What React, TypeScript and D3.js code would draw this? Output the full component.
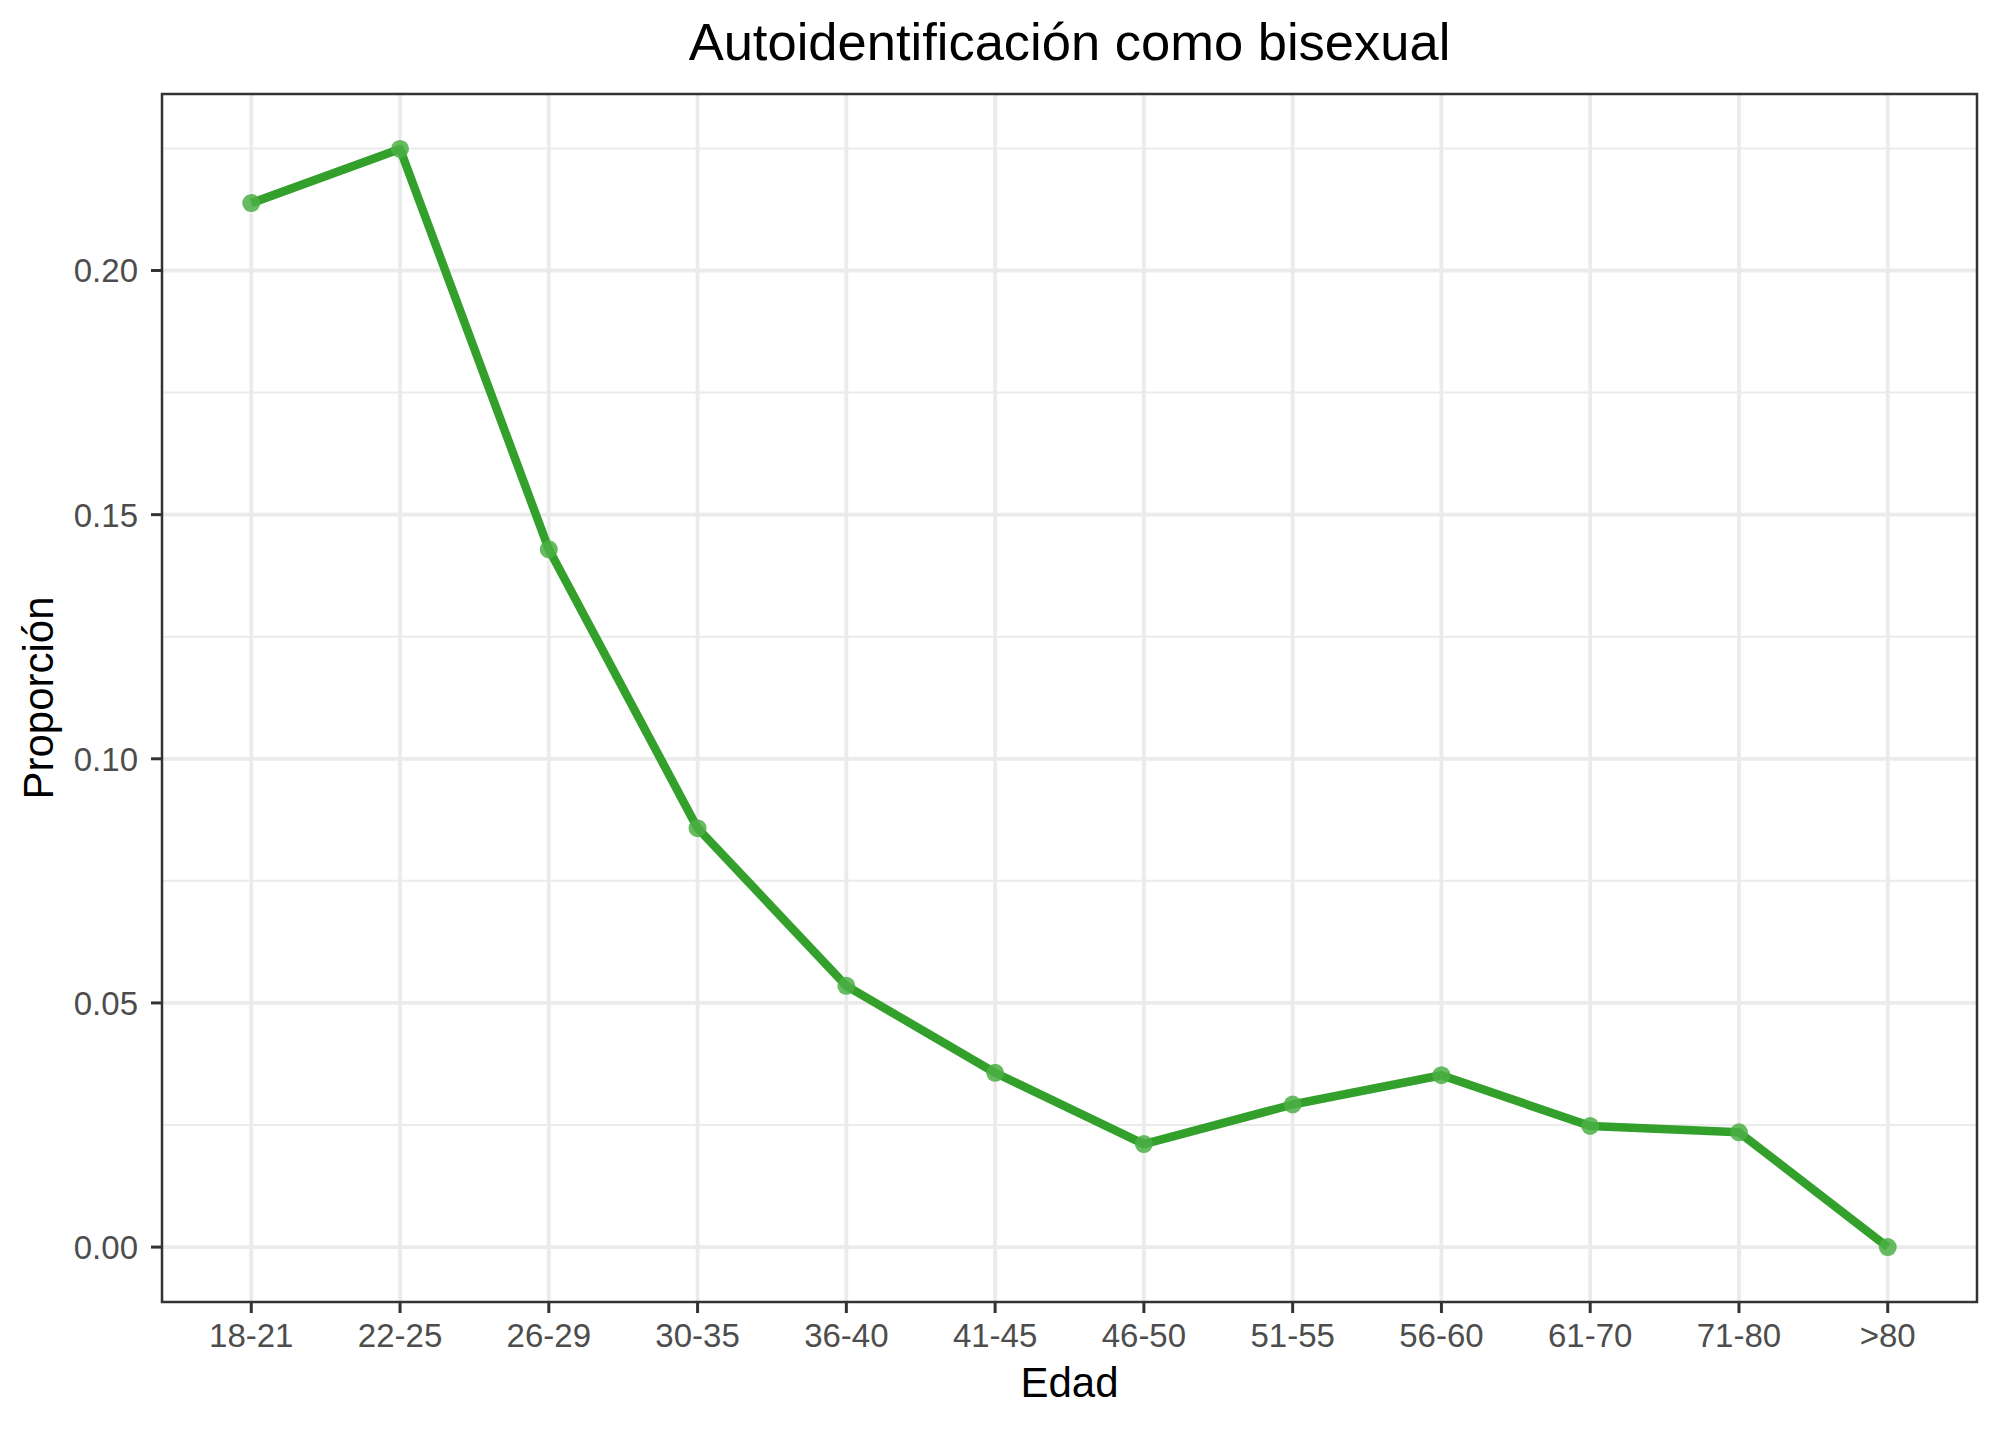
import { useEffect } from 'react';
import * as d3 from 'd3';

const ageGroups = ['18-21', '22-25', '26-29', '30-35', '36-40', '41-45', '46-50', '51-55', '56-60', '61-70', '71-80', '>80'];
const proportion = [0.2138, 0.2249, 0.1429, 0.0858, 0.0535, 0.0357, 0.0211, 0.0292, 0.0352, 0.0248, 0.0235, 0.0];
const yTicks = [0, 0.05, 0.1, 0.15, 0.2];
const yMinorTicks = [0.025, 0.075, 0.125, 0.175, 0.225];

const chartTitle = 'Autoidentificación como bisexual';
const xTitle = 'Edad';
const yTitle = 'Proporción';

const W = 2000;
const H = 1429;
const panel = { left: 162, right: 1977, top: 94, bottom: 1302 };
const font = '"Liberation Sans", Arial, Helvetica, sans-serif';

const App = () => {
    useEffect(() => {
        document.body.style.margin = '0';
    }, []);

    const x = d3.scalePoint<string>()
        .domain(ageGroups)
        .range([panel.left, panel.right])
        .padding(0.6);

    const yMax = d3.max(proportion) as number;
    const yMin = 0;
    const pad = (yMax - yMin) * 0.05;
    const y = d3.scaleLinear()
        .domain([yMin - pad, yMax + pad])
        .range([panel.bottom, panel.top]);

    const line = d3.line<number>()
        .x((_, i) => x(ageGroups[i]) as number)
        .y(d => y(d));

    return (
        <svg width={W} height={H} style={{ display: 'block', background: '#fff' }} fontFamily={font}>
            <rect x={0} y={0} width={W} height={H} fill='#fff' />

            {/* grid */}
            {yMinorTicks.map(t => (
                <line key={'mn' + t} x1={panel.left} x2={panel.right} y1={y(t)} y2={y(t)} stroke='#EBEBEB' strokeWidth={2} />
            ))}
            {yTicks.map(t => (
                <line key={'mj' + t} x1={panel.left} x2={panel.right} y1={y(t)} y2={y(t)} stroke='#EBEBEB' strokeWidth={3.8} />
            ))}
            {ageGroups.map(g => (
                <line key={'xg' + g} x1={x(g)} x2={x(g)} y1={panel.top} y2={panel.bottom} stroke='#EBEBEB' strokeWidth={3.8} />
            ))}

            {/* series */}
            <path d={line(proportion) as string} fill='none' stroke='#33A02C' strokeWidth={8.5} strokeLinejoin='round' />
            {proportion.map((v, i) => (
                <circle key={'pt' + i} cx={x(ageGroups[i])} cy={y(v)} r={9} fill='#4CAF45' fillOpacity={0.85} />
            ))}

            {/* panel border */}
            <rect x={panel.left} y={panel.top} width={panel.right - panel.left} height={panel.bottom - panel.top}
                fill='none' stroke='#333333' strokeWidth={2.5} />

            {/* y axis */}
            {yTicks.map(t => (
                <g key={'yt' + t}>
                    <line x1={panel.left - 11} x2={panel.left} y1={y(t)} y2={y(t)} stroke='#333333' strokeWidth={3} />
                    <text x={138} y={y(t) + 12} textAnchor='end' fontSize={33} fill='#4D4D4D'>{t.toFixed(2)}</text>
                </g>
            ))}

            {/* x axis */}
            {ageGroups.map(g => (
                <g key={'xt' + g}>
                    <line x1={x(g)} x2={x(g)} y1={panel.bottom} y2={panel.bottom + 11} stroke='#333333' strokeWidth={3} />
                    <text x={x(g)} y={1347} textAnchor='middle' fontSize={33} fill='#4D4D4D'>{g}</text>
                </g>
            ))}

            {/* titles */}
            <text x={(panel.left + panel.right) / 2} y={1397} textAnchor='middle' fontSize={42} fill='#000'>{xTitle}</text>
            <text transform={`translate(53, ${(panel.top + panel.bottom) / 2}) rotate(-90)`} textAnchor='middle' fontSize={42} fill='#000'>{yTitle}</text>
            <text x={(panel.left + panel.right) / 2} y={60} textAnchor='middle' fontSize={52.5} fill='#000'>{chartTitle}</text>
        </svg>
    );
};

export default App;
